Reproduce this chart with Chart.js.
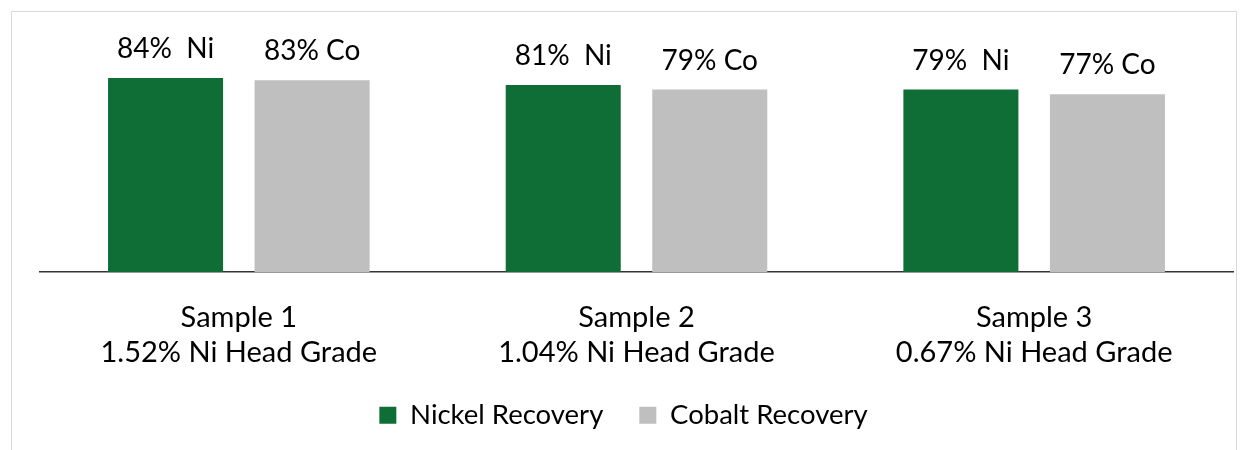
<!DOCTYPE html>
<html>
<head>
<meta charset="utf-8">
<script src="https://cdn.jsdelivr.net/npm/chart.js@4"></script>
<style>
  body { margin: 0; background: #fff; }
  #box {
    position: absolute; left: 11px; top: 11px;
    width: 1224px; height: 460px;
    border: 1px solid #d9d9d9;
  }
  #wrap { width: 1224px; height: 438px; }
</style>
</head>
<body>
<div id="box"><div id="wrap"><canvas id="chart1"></canvas></div></div>
<script>
// chart data
const samples = [['Sample 1', '1.52% Ni Head Grade'], ['Sample 2', '1.04% Ni Head Grade'], ['Sample 3', '0.67% Ni Head Grade']];
const nickel = [84, 81, 79];
const cobalt = [83, 79, 77];
const nickelLabels = ['84%  Ni', '81%  Ni', '79%  Ni'];
const cobaltLabels = ['83% Co', '79% Co', '77% Co'];

const FONT = 'Lato, "Open Sans", sans-serif';

// draw the value text above each bar
const barText = {
    id: 'barText',
    afterDatasetsDraw(chart) {
        const ctx = chart.ctx;
        ctx.save();
        ctx.font = '28px ' + FONT;
        ctx.fillStyle = '#000';
        ctx.textAlign = 'center';
        ctx.textBaseline = 'alphabetic';
        chart.data.datasets.forEach((ds, i) => {
            chart.getDatasetMeta(i).data.forEach((bar, j) => {
                ctx.fillText(ds.texts[j], bar.x, bar.y - 20);
            });
        });
        ctx.restore();
    }
};

// legend is centred on the whole frame, not on the plot area
const legendShift = {
    id: 'legendShift',
    afterLayout(chart) {
        chart.legend.left -= 13;
        chart.legend.right -= 13;
    }
};

new Chart(document.getElementById('chart1'), {
    type: 'bar',
    data: {
        labels: samples,
        datasets: [
            { label: 'Nickel Recovery', data: nickel, texts: nickelLabels, backgroundColor: '#0f6e35' },
            { label: 'Cobalt Recovery', data: cobalt, texts: cobaltLabels, backgroundColor: '#bfbfbf' }
        ]
    },
    options: {
        responsive: true,
        maintainAspectRatio: false,
        animation: false,
        categoryPercentage: 0.737,
        barPercentage: 0.785,
        layout: { padding: { top: 29, left: 28, right: 3, bottom: 11 } },
        scales: {
            x: {
                grid: { display: false, drawTicks: false },
                border: { display: true, color: '#333', width: 1.5 },
                ticks: { color: '#000', padding: 28, maxRotation: 0, font: { family: FONT, size: 29, lineHeight: 1.2 } },
                afterFit(scale) { scale.height = 93.5; }
            },
            y: { display: false, min: 0, max: 100 }
        },
        plugins: {
            tooltip: { enabled: false },
            legend: {
                position: 'bottom',
                labels: { color: '#000', boxWidth: 17, boxHeight: 17, padding: 36, font: { family: FONT, size: 27.5 } }
            }
        }
    },
    plugins: [barText, legendShift]
});
</script>
</body>
</html>
